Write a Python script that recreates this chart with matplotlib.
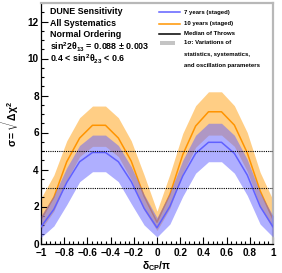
import matplotlib
matplotlib.use("Agg")
import matplotlib.pyplot as plt
from matplotlib.lines import Line2D
from matplotlib.patches import Rectangle
from matplotlib.ticker import MultipleLocator

plt.rcParams['font.family'] = ['Liberation Sans', 'DejaVu Sans']
plt.rcParams['mathtext.fontset'] = 'custom'
plt.rcParams['mathtext.rm'] = 'Liberation Sans:bold'
plt.rcParams['mathtext.it'] = 'Liberation Sans:bold'
plt.rcParams['mathtext.bf'] = 'Liberation Sans:bold'
plt.rcParams['mathtext.sf'] = 'Liberation Sans:bold'

# ---------------- data ----------------
dcp = [-1.0, -0.889, -0.778, -0.667, -0.556, -0.444, -0.333, -0.222, -0.111, 0.0,
       0.111, 0.222, 0.333, 0.444, 0.556, 0.667, 0.778, 0.889, 1.0]

blue_med = [0.90, 1.85, 3.30, 4.42, 4.92, 4.92, 4.42, 3.35, 1.90, 0.85,
            2.00, 3.65, 4.87, 5.47, 5.47, 4.87, 3.70, 2.00, 0.90]
blue_lo = [0.33, 0.95, 2.10, 3.34, 3.88, 3.88, 3.34, 2.15, 1.00, 0.35,
           1.05, 2.55, 3.80, 4.42, 4.42, 3.80, 2.60, 1.05, 0.35]
blue_hi = [1.50, 2.60, 4.10, 5.30, 5.86, 5.86, 5.30, 4.15, 2.65, 1.40,
           2.75, 4.50, 5.85, 6.50, 6.50, 5.85, 4.55, 2.75, 1.50]

orange_med = [1.30, 2.50, 4.42, 5.70, 6.39, 6.39, 5.70, 4.45, 2.55, 1.15,
              2.65, 4.80, 6.35, 7.12, 7.12, 6.40, 4.90, 2.85, 1.30]
orange_lo = [0.75, 1.75, 3.40, 4.70, 5.25, 5.25, 4.70, 3.45, 1.80, 0.70,
             1.90, 3.80, 5.20, 5.86, 5.86, 5.25, 3.90, 2.00, 0.75]
orange_hi = [2.45, 3.70, 5.55, 6.80, 7.43, 7.43, 6.80, 5.55, 3.70, 1.75,
             3.75, 5.95, 7.45, 8.20, 8.20, 7.45, 6.00, 3.85, 2.35]

sig_levels = [3, 5]

info_lines = ["DUNE Sensitivity", "All Systematics", "Normal Ordering",
              r"sin$^{2}$2$\theta_{13}$ = 0.088 $\pm$ 0.003",
              r"0.4 < sin$^{2}\theta_{23}$ < 0.6"]

x_ticks = [-1, -0.8, -0.6, -0.4, -0.2, 0, 0.2, 0.4, 0.6, 0.8, 1]
x_tick_labels = ["\u22121", "\u22120.8", "\u22120.6", "\u22120.4", "\u22120.2", "0",
                 "0.2", "0.4", "0.6", "0.8", "1"]
y_ticks = [0, 2, 4, 6, 8, 10, 12]

# colours
c_blue_line = (0.38, 0.38, 1.0)
c_blue_band = (0.40, 0.40, 1.0)
c_orange_line = (1.0, 0.58, 0.0)
c_orange_band = (1.0, 0.62, 0.05)

# ---------------- figure ----------------
fig = plt.figure(figsize=(2.82, 2.73), dpi=100)
ax = fig.add_axes([41/282, 1-243.5/273, 232/282, 240.5/273])

ax.fill_between(dcp, orange_lo, orange_hi, color=c_orange_band, alpha=0.5, lw=0, zorder=1)
ax.plot(dcp, orange_med, color=c_orange_line, lw=1.1, zorder=2)
ax.fill_between(dcp, blue_lo, blue_hi, color=c_blue_band, alpha=0.52, lw=0, zorder=3)
ax.plot(dcp, blue_med, color=c_blue_line, lw=1.1, zorder=4)

for lv in sig_levels:
    ax.axhline(lv, color='black', lw=0.8, ls=(0, (1, 1)), zorder=5)

ax.set_xlim(-1, 1)
ax.set_ylim(0, 13)
ax.set_xticks(x_ticks)
ax.set_xticklabels(x_tick_labels)
ax.set_yticks(y_ticks)
ax.xaxis.set_minor_locator(MultipleLocator(0.04))
ax.yaxis.set_minor_locator(MultipleLocator(0.5))
ax.tick_params(which='both', direction='in', top=False, right=False,
               labelsize=7.2, width=0.8, color='black')
ax.tick_params(which='major', length=5)
ax.tick_params(which='minor', length=2.5)
ax.tick_params(axis='y', pad=1.5)
ax.tick_params(axis='x', pad=3)
for lab in ax.get_xticklabels() + ax.get_yticklabels():
    lab.set_fontweight('bold')

for side in ['left', 'bottom']:
    ax.spines[side].set_color('black')
    ax.spines[side].set_linewidth(0.9)
for side in ['top', 'right']:
    ax.spines[side].set_color('#b8b8b8')
    ax.spines[side].set_linewidth(1.6)

ax.set_ylabel(r"$\sigma = \sqrt{\Delta\chi^{2}}$", fontsize=7.5)
ax.yaxis.set_label_coords(-0.085, 0.5)
ax.set_xlabel(r"$\delta_{CP}/\pi$", fontsize=7.5)
ax.xaxis.set_label_coords(0.5, -0.066)

# info text
info_y = [0.9626, 0.9127, 0.867, 0.817, 0.767]
for txt, yy in zip(info_lines, info_y):
    ax.text(0.0388, yy, txt, transform=ax.transAxes, fontsize=6.4,
            fontweight='bold', va='center', ha='left', zorder=6)

# legend (drawn manually)
leg_fs = 4.3
leg_items = [("7 years (staged)", c_blue_line, 0.961),
             ("10 years (staged)", c_orange_line, 0.914),
             ("Median of Throws", 'black', 0.872)]
for lab, col, yy in leg_items:
    ax.add_line(Line2D([0.5086, 0.599], [yy, yy], transform=ax.transAxes,
                       color=col, lw=1.1, zorder=6))
    ax.text(0.615, yy, lab, transform=ax.transAxes, fontsize=leg_fs,
            fontweight='bold', va='center', ha='left', zorder=6)
ax.add_patch(Rectangle((0.513, 0.825), 0.065, 0.017, transform=ax.transAxes,
                       facecolor='#c4c4c4', edgecolor='none', zorder=6))
for lab, yy in [("1\u03c3: Variations of", 0.835),
                ("statistics, systematics,", 0.785),
                ("and oscillation parameters", 0.739)]:
    ax.text(0.615, yy, lab, transform=ax.transAxes, fontsize=leg_fs,
            fontweight='bold', va='center', ha='left', zorder=6)

fig.savefig("out.png", dpi=100)
